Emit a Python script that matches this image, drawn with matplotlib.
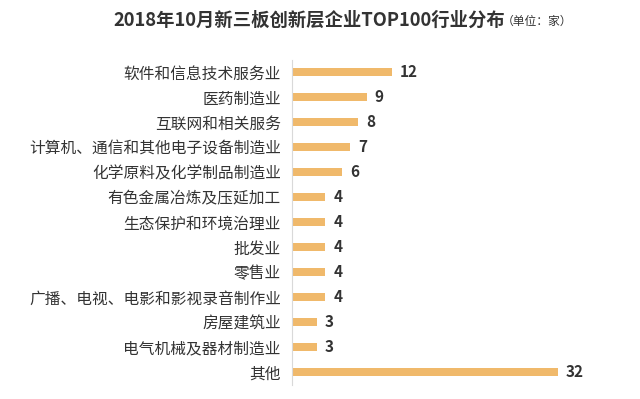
import matplotlib
matplotlib.use("Agg")
import matplotlib.pyplot as plt

plt.rcParams['font.family'] = ['Noto Sans CJK SC', 'DejaVu Sans']

# Data
industries = ["软件和信息技术服务业", "医药制造业", "互联网和相关服务",
              "计算机、通信和其他电子设备制造业", "化学原料及化学制品制造业",
              "有色金属冶炼及压延加工", "生态保护和环境治理业", "批发业",
              "零售业", "广播、电视、电影和影视录音制作业", "房屋建筑业",
              "电气机械及器材制造业", "其他"]
counts = [12, 9, 8, 7, 6, 4, 4, 4, 4, 4, 3, 3, 32]

bar_color = "#F0B96B"
text_color = "#333333"

fig = plt.figure(figsize=(6.4, 3.99), dpi=100)
ax = fig.add_axes([292 / 640, 1 - 384.5 / 399, 328 / 640, 325 / 399])

y = list(range(len(industries)))
ax.barh(y, counts, height=0.33, color=bar_color)
ax.set_ylim(len(industries) - 0.5, -0.5)
ax.set_xlim(0, 328 / 8.31)

for yi, v in zip(y, counts):
    ax.text(v + 0.95, yi, str(v), va="center", ha="left",
            fontsize=11, fontweight="bold", color=text_color)

ax.set_yticks(y)
ax.set_yticklabels(industries, fontsize=11.3, color=text_color, fontweight="medium")
ax.tick_params(axis="y", length=0, pad=8)
ax.set_xticks([])

for s in ["top", "right", "bottom"]:
    ax.spines[s].set_visible(False)
ax.spines["left"].set_color("#D9D9D9")

fig.text(113 / 640, 1 - 20 / 399, "2018年10月新三板创新层企业TOP100行业分布",
         fontsize=13.2, fontweight="bold", color=text_color, va="center", ha="left")
fig.text(502 / 640, 1 - 21 / 399, "（单位：家）",
         fontsize=8.5, color=text_color, va="center", ha="left")

fig.savefig("out.png", dpi=100, facecolor="white")
